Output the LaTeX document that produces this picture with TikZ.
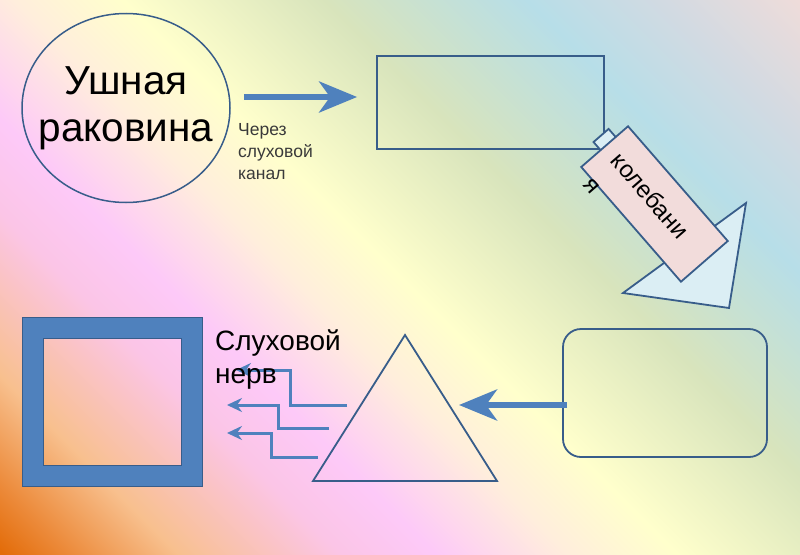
\documentclass[tikz,border=0pt]{standalone}
\usepackage{fontspec}
\setmainfont{Liberation Sans}
\usetikzlibrary{shapes.geometric,arrows.meta,positioning}

\definecolor{fillblue}{HTML}{4F81BD}
\definecolor{edgeblue}{HTML}{385D8A}
\definecolor{oscpink}{HTML}{F2DCDB}
\definecolor{paleblue}{HTML}{DBEEF4}
\definecolor{textgrey}{HTML}{3A3A3A}
\definecolor{bg0}{HTML}{E36C09}
\definecolor{bgA}{HTML}{EC8A3A}
\definecolor{bg1}{HTML}{F8C08E}
\definecolor{bg2}{HTML}{FBC5E6}
\definecolor{bg3}{HTML}{FDC9F8}
\definecolor{bg4}{HTML}{FFEEDC}
\definecolor{bg5}{HTML}{FFFFCC}
\definecolor{bg6}{HTML}{D8E4BC}
\definecolor{bg7}{HTML}{B7DEE8}
\definecolor{bg8}{HTML}{D2DAE2}
\definecolor{bg9}{HTML}{EEDCDA}

\pgfdeclarehorizontalshading{rainbow}{100bp}{color(0bp)=(bg0); color(14.6bp)=(bg0);
  color(18.1bp)=(bgA); color(23.8bp)=(bg1); color(32.3bp)=(bg2); color(37.3bp)=(bg3);
  color(44.3bp)=(bg4); color(50bp)=(bg5); color(60.6bp)=(bg6); color(71.2bp)=(bg7);
  color(78.3bp)=(bg8); color(85.4bp)=(bg9); color(100bp)=(bg9)}

\tikzset{
  outline/.style = {draw=edgeblue, line width=1.8pt, inner sep=0pt},
  ear/.style = {ellipse, draw=edgeblue, line width=1.5pt, minimum width=208pt,
    minimum height=189pt, inner xsep=-40pt, inner ysep=0pt, align=center,
    font=\fontsize{40.5}{47}\selectfont},
  small/.style = {text=textgrey, align=left, inner sep=0pt,
    font=\fontsize{17.5}{22}\selectfont},
  osc/.style = {outline, fill=oscpink, rotate=-49, minimum width=152pt,
    minimum height=62pt, font=\fontsize{24}{36}\selectfont},
  frame/.style = {draw=edgeblue, line width=1pt, double=fillblue,
    double distance=20pt, minimum width=159.5pt, minimum height=148pt},
  fat/.style = {draw=fillblue, line width=6pt,
    -{Stealth[length=38pt, width=31pt, inset=11pt]}},
  nervearrow/.style = {draw=fillblue, line width=3pt,
    -{Stealth[length=15pt, width=14pt, inset=5pt]}},
  mid/.style = {align=left, inner sep=0pt, font=\fontsize{28}{33}\selectfont}
}

\begin{document}
\begin{tikzpicture}[x=1pt, y=-1pt]
  \fill[shading=rainbow, shading angle=45] (0,0) rectangle (800,554);

  \node[ear] (ear) at (126,108) {Ушная\\раковина};
  \node[outline, minimum width=227pt, minimum height=93pt] (canal) at (490.5,102.5) {};
  \draw[fat, shorten <=13pt, shorten >=19pt] ([yshift=11pt]ear.east) -- ([yshift=5.5pt]canal.west);
  \node[small, anchor=north west] (via) at (238,123.5) {Через\\слуховой\\канал};

  \draw[outline, fill=paleblue] (746,203) -- (623,293) -- (729,308) -- cycle;
  \node[outline, fill=paleblue, rotate=-49, minimum width=12pt, minimum height=20pt] (tab) at (605,140) {};
  \node[osc] (osc) at (654.5,204)
    {\makebox[122pt][l]{\raisebox{-6pt}[0pt][0pt]{\begin{tabular}[t]{@{}l@{}}колебани\\я\end{tabular}}}};

  \node[outline, rounded corners=18pt, minimum width=204pt, minimum height=128pt] (oval) at (665,393) {};
  \coordinate (apex) at (405,335);
  \coordinate (left) at (313,481);
  \coordinate (right) at (497,481);
  \draw[outline] (apex) -- (left) -- (right) -- cycle;
  \coordinate (tip) at (459,405);
  \draw[fat, shorten <=-5pt] ([yshift=-12pt]oval.west) -- (tip);

  \node[frame] (frame) at (112.5,402) {};
  \coordinate (s1) at (347,405);
  \coordinate (e1) at (236,370);
  \coordinate (s2) at (329,428);
  \coordinate (e2) at (227,405);
  \coordinate (s3) at (318,457);
  \coordinate (e3) at (227,433);
  \draw[nervearrow] (s1) -- ++(-57,0) |- (e1);
  \draw[nervearrow] (s2) -- ++(-51,0) |- (e2);
  \draw[nervearrow] (s3) -- ++(-47,0) |- (e3);
  \node[mid, anchor=north west] (nerve) at (215,329.3) {Слуховой\\нерв};
\end{tikzpicture}
\end{document}
